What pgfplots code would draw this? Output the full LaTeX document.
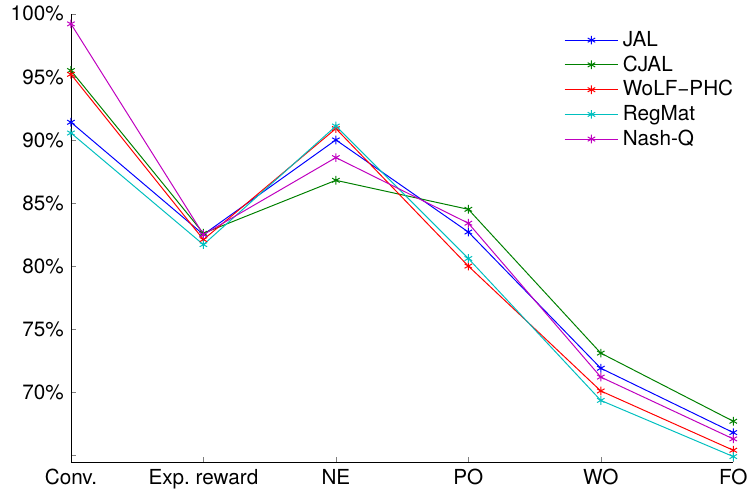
\documentclass[border=0pt]{standalone}
\usepackage{fontspec}
\setmainfont{TeX Gyre Heros}
\usepackage{pgfplots}
\pgfplotsset{compat=1.18}
\definecolor{mgreen}{rgb}{0,0.5,0}
\definecolor{mcyan}{rgb}{0,0.75,0.75}
\definecolor{mmag}{rgb}{0.75,0,0.75}
\begin{document}
\fontsize{10.5}{12.6}\selectfont
\begin{tikzpicture}
\begin{axis}[
    scale only axis,
    width=336pt,
    height=227.5pt,
    xmin=0, xmax=5,
    ymin=64.45, ymax=100,
    axis x line*=bottom,
    axis y line*=left,
    tick align=inside,
    major tick length=2.5pt,
    xtick={0,1,2,3,4,5},
    xticklabels={Conv., Exp.\ reward, NE, PO, WO, FO},
    ytick={65,70,75,80,85,90,95,100},
    yticklabels={,70\%,75\%,80\%,85\%,90\%,95\%,100\%},
    tick label style={font=\fontsize{10.5}{12.6}\selectfont},
    every axis plot/.append style={line width=0.5pt, mark=asterisk, mark size=2.2pt},
    legend style={at={(0.735,0.98)}, anchor=north west, draw=none, fill=none,
        font=\fontsize{10.5}{12.6}\selectfont, row sep=-0.8pt},
    legend cell align=left,
    legend image code/.code={\draw[mark repeat=2,mark phase=2] plot coordinates {(0cm,0cm)(0.48cm,0cm)(0.96cm,0cm)};},
]
\addplot[color=blue] coordinates {(0,91.4) (1,82.5) (2,90.0) (3,82.7) (4,71.9) (5,66.8)};
\addplot[color=mgreen] coordinates {(0,95.5) (1,82.6) (2,86.8) (3,84.5) (4,73.1) (5,67.7)};
\addplot[color=red] coordinates {(0,95.2) (1,82.1) (2,90.9) (3,80.0) (4,70.1) (5,65.4)};
\addplot[color=mcyan] coordinates {(0,90.55) (1,81.7) (2,91.1) (3,80.6) (4,69.35) (5,64.9)};
\addplot[color=mmag] coordinates {(0,99.2) (1,82.5) (2,88.6) (3,83.4) (4,71.2) (5,66.3)};
\legend{JAL, CJAL, WoLF−PHC, RegMat, Nash-Q}
\end{axis}
\pgfresetboundingbox
\path[use as bounding box] (-36pt,-15pt) rectangle (345pt,234.5pt);
\end{tikzpicture}
\end{document}
